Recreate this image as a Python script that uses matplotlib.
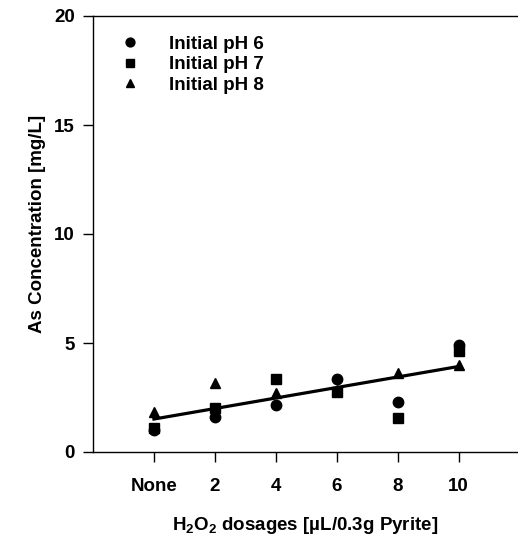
import matplotlib
matplotlib.use("Agg")
import matplotlib.pyplot as plt
import numpy as np

plt.rcParams['font.family'] = ['Liberation Sans', 'DejaVu Sans']
plt.rcParams['font.weight'] = 'bold'
plt.rcParams['mathtext.default'] = 'regular'

dosage = [0, 2, 4, 6, 8, 10]
tick_labels = ['None', '2', '4', '6', '8', '10']
ph6 = [1.0, 1.62, 2.16, 3.33, 2.31, 4.91]
ph7 = [1.12, 2.03, 3.33, 2.77, 1.54, 4.65]
ph8 = [1.85, 3.15, 2.69, 2.85, 3.61, 3.99]
series_names = ['Initial pH 6', 'Initial pH 7', 'Initial pH 8']

fig = plt.figure(figsize=(5.18, 5.43), dpi=100)
ax = fig.add_axes([93/518, 91/543, 425/518, 436/543])

ax.plot(dosage, ph6, 'o', color='black', ms=7.5, label=series_names[0])
ax.plot(dosage, ph7, 's', color='black', ms=6.5, label=series_names[1])
ax.plot(dosage, ph8, '^', color='black', ms=7.5, label=series_names[2])

xs = np.array(dosage * 3, dtype=float)
ys = np.array(ph6 + ph7 + ph8)
slope, intercept = np.polyfit(xs, ys, 1)
xl = np.array([dosage[0], dosage[-1]], dtype=float)
ax.plot(xl, slope * xl + intercept, color='black', lw=2.3)

ax.set_xlim(-2, 11.95)
ax.set_ylim(0, 20)
ax.set_xticks(dosage)
ax.set_xticklabels(tick_labels)
ax.set_yticks([0, 5, 10, 15, 20])

ax.spines['right'].set_visible(False)
for s in ['left', 'top', 'bottom']:
    ax.spines[s].set_linewidth(1.0)

fs = 13.5
ax.tick_params(axis='y', direction='out', length=7, width=1, pad=6, labelsize=fs)
ax.tick_params(axis='x', direction='out', length=7, width=1, pad=12, labelsize=fs)

ax.set_xlabel('H$_2$O$_2$ dosages [\u00b5L/0.3g Pyrite]', fontsize=fs, fontweight='bold')
ax.set_ylabel('As Concentration [mg/L]', fontsize=fs, fontweight='bold')
ax.xaxis.set_label_coords(0.5, -0.145)
ax.yaxis.set_label_coords(-0.11, 0.523)

leg = ax.legend(loc='upper left', bbox_to_anchor=(0.048, 0.972), frameon=False,
                prop={'size': fs, 'weight': 'bold'}, markerscale=0.85,
                handlelength=1.0, handletextpad=1.54,
                labelspacing=0.18, borderaxespad=0)

fig.savefig('out.png', dpi=100)
